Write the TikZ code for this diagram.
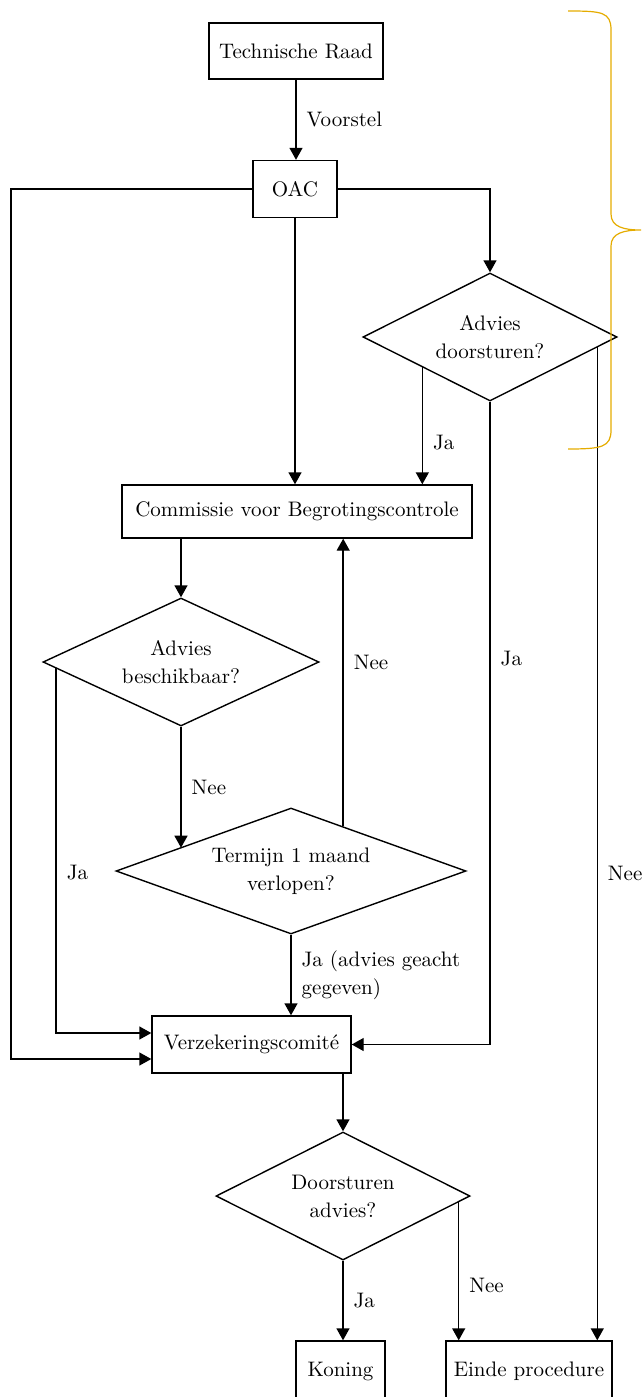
\documentclass[tikz,border=0pt]{standalone}
\usetikzlibrary{shapes.geometric,arrows.meta,calc}
\definecolor{goud}{HTML}{E5AC00}
\tikzset{
  blok/.style={draw,line width=0.7pt,inner sep=0pt,align=center},
  keuze/.style={draw,diamond,line width=0.7pt,inner sep=0pt,align=center},
  pijl/.style={line width=0.7pt,-{Triangle[length=6pt,width=6.5pt]}},
  lbl/.style={right,inner sep=0pt,xshift=5pt,align=left},
  accolade/.style={goud,line width=0.6pt}
}
\begin{document}
\begin{tikzpicture}[x=0.5pt,y=-0.5pt,font=\fontsize{10.5}{14}\selectfont]
\useasboundingbox (0,0) rectangle (643,1397);
% blokken en keuzes
\node[blok,minimum width=87pt,minimum height=28pt] (tr) at (296,51) {Technische Raad};
\node[blok,minimum width=42pt,minimum height=28.5pt] (oac) at (295,189) {OAC};
\node[keuze,aspect=2,minimum width=127pt,minimum height=64pt] (d1) at (490,337) {Advies\\doorsturen?};
\node[blok,minimum width=175pt,minimum height=26.5pt] (kbc) at (297,511.5) {Commissie voor Begrotingscontrole};
\node[keuze,aspect=2.15,minimum width=138pt,minimum height=64pt] (d2) at (181,662) {Advies\\beschikbaar?};
\node[keuze,aspect=2.78,minimum width=175pt,minimum height=63pt] (d3) at (291,871) {Termijn 1 maand\\verlopen?};
\node[blok,minimum width=99.5pt,minimum height=28.5pt] (verz) at (251.5,1044.5) {Verzekeringscomit\'e};
\node[keuze,aspect=2,minimum width=127pt,minimum height=64pt] (d4) at (343,1196) {Doorsturen\\advies?};
\node[blok,minimum width=44.5pt,minimum height=30pt] (kon) at (340.5,1371) {Koning};
\node[blok,minimum width=83pt,minimum height=30pt] (einde) at (529,1371) {Einde procedure};
% punten op de randen
\coordinate (d1ja) at ($(d1.west)!0.47!(d1.south)$);
\coordinate (d1nee) at ($(d1.east)!0.16!(d1.south)$);
\coordinate (d2ja) at ($(d2.west)!0.1!(d2.south)$);
\coordinate (d3in) at ($(d3.west)!0.366!(d3.north)$);
\coordinate (d3nee) at ($(d3.north)!0.297!(d3.east)$);
\coordinate (d4nee) at ($(d4.east)!0.094!(d4.south)$);
\coordinate (links) at (11,1059);
% pijlen
\draw[pijl] (tr.south) -- (tr.south |- oac.north) node[lbl,midway] {Voorstel};
\draw[pijl] (oac.west) -| (links) -- (links -| verz.west);
\draw[pijl] (oac.south) -- (oac.south |- kbc.north);
\draw[pijl] (oac.east) -| (d1.north);
\draw[pijl] (d1ja) -- (d1ja |- kbc.north) node[lbl,pos=0.64] {Ja};
\draw[pijl] (d1.south) |- (verz.east) node[lbl,pos=0.2] {Ja};
\draw[pijl] (d1nee) -- (d1nee |- einde.north) node[lbl,pos=0.53] {Nee};
\draw[pijl] (kbc.south -| d2.north) -- (d2.north);
\draw[pijl] (d2.south) -- (d2.south |- d3in) node[lbl,midway] {Nee};
\draw[pijl] (d2ja) |- ($(verz.west)+(0,-11.5)$) node[lbl,pos=0.28] {Ja};
\draw[pijl] (d3nee) -- (d3nee |- kbc.south) node[lbl,pos=0.57] {Nee};
\draw[pijl] (d3.south) -- (d3.south |- verz.north) node[lbl,midway] {Ja (advies geacht\\gegeven)};
\draw[pijl] (verz.south -| d4.north) -- (d4.north);
\draw[pijl] (d4.south) -- (d4.south |- kon.north) node[lbl,midway] {Ja};
\draw[pijl] (d4nee) -- (d4nee |- einde.north) node[lbl,pos=0.6] {Nee};
% accolade
\draw[accolade] (568,11) .. controls (602,11) and (611,12) .. (611,30) -- (611,214)
  .. controls (611,227) and (624,230) .. (641,230) .. controls (624,230) and (611,233) .. (611,246)
  -- (611,430) .. controls (611,447) and (602,449) .. (568,449);
\end{tikzpicture}
\end{document}
